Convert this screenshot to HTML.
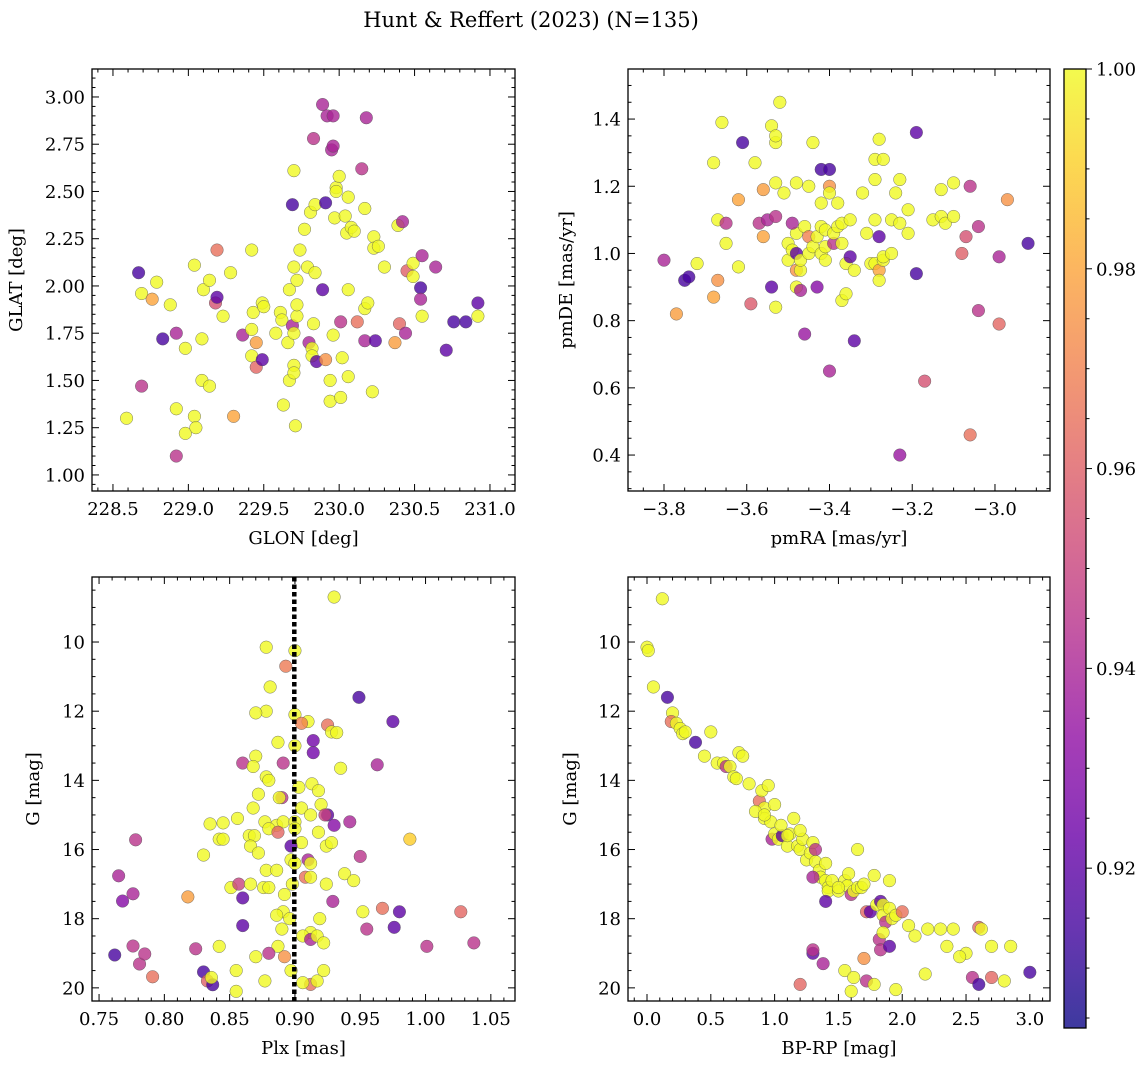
<!DOCTYPE html>
<html><head><meta charset="utf-8"><style>
body{margin:0;background:#fff;}
svg{display:block;font-family:"DejaVu Serif","Liberation Serif",serif;}
</style></head><body>
<svg id="fig" width="1148" height="1068" viewBox="0 0 1148 1068">
<defs><linearGradient id="cbg" x1="0" y1="1" x2="0" y2="0"></linearGradient></defs>
<text x="531" y="27" font-size="21" text-anchor="middle">Hunt &amp; Reffert (2023) (N=135)</text>
</svg>
<script>
// ---- Panel 1: GLON vs GLAT ----
const p1Glon=[228.59,228.67,228.69,228.69,228.76,228.79,228.83,228.88,228.92,228.92,228.92,228.98,228.98,229.04,229.04,229.05,229.09,229.09,229.10,229.14,229.14,229.18,229.19,229.19,229.23,229.28,229.30,229.36,229.42,229.42,229.42,229.43,229.45,229.45,229.49,229.49,229.50,229.58,229.61,229.62,229.63,229.66,229.67,229.67,229.69,229.69,229.70,229.70,229.70,229.70,229.70,229.71,229.72,229.72,229.72,229.74,229.77,229.79,229.80,229.81,229.82,229.82,229.83,229.84,229.83,229.84,229.85,229.89,229.89,229.91,229.91,229.92,229.94,229.94,229.95,229.96,229.96,229.96,229.97,229.98,229.98,230.00,230.01,230.01,230.02,230.04,230.05,230.06,230.06,230.06,230.08,230.10,230.12,230.15,230.17,230.17,230.17,230.18,230.19,230.22,230.23,230.23,230.24,230.26,230.30,230.37,230.39,230.40,230.42,230.44,230.45,230.49,230.49,230.54,230.54,230.55,230.55,230.64,230.71,230.76,230.84,230.92,230.92];
const p1Glat=[1.30,2.07,1.96,1.47,1.93,2.02,1.72,1.90,1.10,1.75,1.35,1.67,1.22,2.11,1.31,1.25,1.72,1.50,1.98,1.47,2.03,1.91,1.94,2.19,1.84,2.07,1.31,1.74,2.19,1.63,1.77,1.86,1.70,1.57,1.91,1.61,1.89,1.75,1.86,1.82,1.37,1.70,1.98,1.50,1.79,2.43,2.10,2.61,1.75,1.58,1.54,1.26,1.84,1.90,2.03,2.19,2.30,2.10,1.70,2.39,1.67,1.63,1.80,2.43,2.78,2.07,1.60,2.96,1.98,1.61,2.44,2.90,1.50,1.39,2.72,2.90,1.74,2.74,2.36,2.52,2.50,2.58,1.81,1.41,1.62,2.37,2.28,2.47,1.98,1.52,2.31,2.29,1.81,2.62,1.88,1.71,2.41,2.89,1.91,1.44,2.26,2.20,1.71,2.21,2.10,1.70,2.32,1.80,2.34,1.75,2.08,2.05,2.12,1.99,1.93,1.84,2.16,2.10,1.66,1.81,1.81,1.91,1.84];
const p1Prob=[1,0.915,1,0.945,0.98,1,0.915,1,0.945,0.94,1,1,1,1,1,1,1,1,1,1,1,0.955,0.92,0.965,1,1,0.98,0.94,1,1,1,1,0.978,0.962,1,0.92,1,1,1,1,1,1,1,1,0.94,0.915,1,1,1,1,1,1,1,1,1,1,1,1,0.94,1,1,1,1,1,0.945,1,0.92,0.94,0.92,0.975,0.915,0.94,1,1,0.94,0.94,1,0.94,1,1,1,1,0.945,1,1,1,1,1,1,1,1,1,0.965,0.945,1,0.94,1,0.94,1,1,1,1,0.92,1,1,0.978,1,0.962,0.94,0.94,0.96,1,1,0.915,0.94,1,0.94,0.94,0.92,0.915,0.915,0.92,1];

// ---- Panel 2: pmRA vs pmDE ----
const p2Pmra=[-3.80,-3.75,-3.74,-3.77,-3.72,-3.68,-3.68,-3.67,-3.67,-3.66,-3.65,-3.65,-3.62,-3.62,-3.61,-3.59,-3.58,-3.57,-3.56,-3.56,-3.55,-3.54,-3.54,-3.53,-3.53,-3.53,-3.53,-3.53,-3.52,-3.51,-3.50,-3.50,-3.49,-3.48,-3.48,-3.48,-3.49,-3.48,-3.48,-3.47,-3.47,-3.47,-3.46,-3.46,-3.45,-3.45,-3.45,-3.44,-3.44,-3.43,-3.43,-3.42,-3.42,-3.42,-3.40,-3.42,-3.41,-3.41,-3.41,-3.40,-3.40,-3.40,-3.39,-3.39,-3.38,-3.38,-3.37,-3.37,-3.37,-3.36,-3.36,-3.35,-3.35,-3.34,-3.34,-3.32,-3.31,-3.30,-3.29,-3.29,-3.29,-3.29,-3.28,-3.28,-3.27,-3.28,-3.28,-3.27,-3.27,-3.25,-3.25,-3.24,-3.23,-3.23,-3.21,-3.21,-3.19,-3.19,-3.23,-3.17,-3.15,-3.13,-3.13,-3.12,-3.10,-3.10,-3.08,-3.06,-3.07,-3.06,-3.04,-3.04,-2.99,-2.99,-2.97,-2.92];
const p2Pmde=[0.98,0.92,0.93,0.82,0.97,0.87,1.27,1.10,0.92,1.39,1.03,1.09,0.96,1.16,1.33,0.85,1.27,1.09,1.05,1.19,1.10,1.38,0.90,1.33,1.21,1.35,0.84,1.11,1.45,1.18,1.03,0.98,1.01,1.06,0.95,0.90,1.09,1.21,1.00,0.95,0.98,0.89,1.08,0.76,1.05,1.00,1.20,1.33,1.02,1.05,0.90,1.15,1.08,1.25,1.25,1.00,1.07,0.98,1.02,1.20,1.18,0.65,1.03,1.06,1.15,1.08,1.03,1.09,0.86,0.97,0.88,0.99,1.10,0.74,0.95,1.18,1.06,0.97,1.28,1.22,1.10,0.97,0.95,1.05,0.98,0.92,1.34,0.99,1.28,1.00,1.10,1.18,1.22,0.40,1.06,1.13,0.94,1.36,1.09,0.62,1.10,1.19,1.11,1.09,1.11,1.21,1.00,1.20,1.05,0.46,1.08,0.83,0.99,0.79,1.16,1.03,0.85];
const p2Prob=[0.94,0.915,0.915,0.978,1,0.98,1,1,0.975,1,1,0.945,1,0.98,0.915,0.958,1,0.945,0.98,0.978,0.94,1,0.92,1,1,1,1,0.945,1,1,1,1,1,1,0.975,1,0.94,1,0.92,1,1,0.94,1,0.935,0.97,1,1,1,1,1,0.93,1,1,0.915,0.915,1,1,1,1,0.975,1,0.94,0.945,1,1,1,1,1,1,1,1,0.92,1,0.92,1,1,1,1,1,1,1,1,0.98,0.92,1,1,1,1,1,1,1,1,1,0.935,1,1,0.915,0.92,1,0.955,1,1,1,1,1,1,0.96,0.945,0.955,0.965,0.945,0.945,0.94,0.962,0.975,0.915];

// ---- Panel 3: Plx vs G ----
const p3Plx=[0.762,0.765,0.768,0.776,0.776,0.778,0.781,0.785,0.791,0.818,0.824,0.830,0.833,0.830,0.835,0.837,0.842,0.845,0.851,0.857,0.855,0.878,0.893,0.900,0.881,0.878,0.870,0.900,0.910,0.905,0.925,0.928,0.932,0.887,0.900,0.914,0.870,0.860,0.891,0.868,0.878,0.935,0.913,0.880,0.872,0.903,0.918,0.890,0.868,0.856,0.920,0.905,0.877,0.886,0.891,0.900,0.912,0.925,0.930,0.942,0.845,0.865,0.869,0.880,0.887,0.900,0.905,0.918,0.924,0.928,0.866,0.872,0.897,0.897,0.910,0.912,0.878,0.886,0.900,0.938,0.945,0.924,0.908,0.912,0.866,0.876,0.880,0.892,0.898,0.929,0.967,0.980,1.027,0.952,0.891,0.896,0.890,0.886,0.919,0.912,0.906,0.912,0.917,0.922,0.955,0.976,1.037,1.001,0.842,0.860,0.887,0.892,0.870,0.880,0.897,0.922,0.912,0.906,0.917,0.877,0.855,0.949,0.975,0.963,0.914,0.988,0.930,0.950,0.860,0.923,0.888,0.836];
const p3G=[19.05,16.76,17.49,18.79,17.28,15.72,19.31,19.02,19.68,17.37,18.87,19.54,19.80,16.16,15.26,19.91,15.70,15.23,17.10,17.00,19.50,10.15,10.70,10.25,11.30,12.00,12.05,12.10,12.30,12.35,12.40,12.60,12.62,12.90,13.00,13.20,13.30,13.50,13.50,13.60,13.90,13.65,14.10,14.00,14.40,14.20,14.30,14.50,14.80,15.10,14.70,14.80,15.20,15.30,15.20,15.20,15.00,15.00,15.30,15.20,15.70,15.60,15.60,15.40,15.50,15.40,15.80,15.50,15.90,15.80,15.90,16.10,15.90,16.30,16.30,16.40,16.60,16.60,16.40,16.70,16.90,17.00,16.80,16.80,17.00,17.10,17.10,17.30,17.00,17.50,17.70,17.80,17.80,17.80,17.80,18.00,18.30,17.90,18.00,18.40,18.50,18.60,18.50,18.70,18.30,18.25,18.70,18.80,18.80,18.20,18.80,19.10,19.10,19.00,19.50,19.50,19.90,19.85,19.80,19.80,20.10,11.60,12.30,13.55,12.85,15.70,8.70,16.20,17.40,15.00,14.50,19.70];
const p3Prob=[0.915,0.94,0.93,0.945,0.94,0.945,0.945,0.945,0.965,0.978,0.945,0.915,0.96,1,1,0.915,1,1,1,0.95,1,1,0.968,1,1,1,1,1,1,0.97,0.965,1,1,1,1,0.925,1,0.945,0.945,1,1,1,1,1,1,1,1,0.945,1,1,1,1,1,1,1,1,1,0.92,0.93,0.94,1,1,1,1,0.962,1,1,1,1,1,1,1,0.92,1,0.94,1,1,1,1,1,1,1,0.965,1,1,1,1,1,1,0.94,0.965,0.92,0.962,1,1,1,1,1,1,1,1,0.94,1,1,0.945,0.92,0.945,0.945,1,0.92,1,0.975,1,0.945,1,1,0.965,1,1,1,1,0.915,0.92,0.94,0.925,0.99,1,0.945,0.92,0.95,1,1];

// ---- Panel 4: BP-RP vs G ----
const p4Bprp=[0.00,0.01,0.12,0.05,0.16,0.20,0.19,0.23,0.26,0.28,0.30,0.38,0.45,0.50,0.55,0.60,0.62,0.65,0.68,0.72,0.70,0.75,0.80,0.88,0.90,0.92,0.95,0.92,0.97,0.98,1.00,1.03,1.06,1.05,1.10,1.12,1.15,1.18,1.20,1.22,1.20,1.25,1.28,1.30,1.32,1.32,1.35,1.36,1.30,1.40,1.42,1.42,1.40,1.45,1.50,1.55,1.57,1.60,1.62,1.65,1.68,1.70,1.72,1.75,1.78,1.80,1.83,1.85,1.85,1.87,1.82,1.83,1.85,1.90,1.90,1.92,1.95,2.00,2.05,2.10,2.20,2.18,2.30,2.35,2.40,2.50,2.60,2.62,2.70,2.80,2.85,3.00,2.55,2.60,2.70,2.45,1.20,1.30,1.30,1.38,1.55,1.62,1.60,1.72,1.70,1.95,1.78,1.90,1.50,1.10,1.00,0.85,0.92,1.40,1.58,1.65];
const p4G=[10.15,10.25,8.75,11.30,11.60,12.05,12.30,12.35,12.50,12.65,12.60,12.90,13.30,12.60,13.50,13.50,13.60,13.60,13.90,13.20,13.95,13.30,14.10,14.60,14.30,14.80,14.15,15.10,15.20,15.70,15.55,15.70,15.60,15.30,15.90,15.55,15.10,15.90,16.00,15.70,15.45,16.30,16.10,15.80,16.00,16.35,16.60,16.80,16.80,16.90,17.10,17.20,17.50,16.90,17.20,16.90,17.05,17.30,17.20,17.10,17.10,17.00,17.80,17.80,16.75,17.60,17.50,17.60,17.90,18.10,18.60,18.90,18.40,18.80,17.70,18.00,17.90,17.80,18.20,18.50,18.30,19.60,18.30,18.80,18.30,19.00,18.25,18.30,18.80,19.80,18.80,19.55,19.70,19.90,19.70,19.10,19.90,19.00,18.90,19.30,19.50,19.70,20.10,19.80,19.15,20.05,19.90,16.90,17.10,15.60,14.70,14.90,15.00,16.40,16.70,16.00];
const p4Prob=[1,1,1,1,0.915,1,0.965,1,1,1,1,0.915,1,1,1,1,0.945,1,1,1,1,1,1,0.965,1,1,1,1,1,0.94,1,1,0.92,1,1,1,1,1,1,1,1,1,1,1,0.945,1,1,1,0.94,1,1,1,0.92,1,1,1,1,0.945,1,1,1,1,0.962,0.92,1,1,0.92,1,1,0.945,0.945,0.945,1,0.92,1,1,1,0.965,1,1,1,1,1,1,1,1,0.962,1,1,1,1,0.915,0.945,0.915,0.962,1,0.962,0.92,0.945,0.94,1,1,1,0.945,0.975,1,1,1,1,1,1,1,1,1,1,1];

const cbTicks=[0.92,0.94,0.96,0.98,1.00];
const VMIN=0.904, VMAX=1.0;

const NS="http://www.w3.org/2000/svg";
const svg=document.getElementById('fig');
function mk(tag,attrs,parent){const e=document.createElementNS(NS,tag);for(const k in attrs)e.setAttribute(k,attrs[k]);(parent||svg).appendChild(e);return e;}

const plasma=[[13,8,135],[65,4,157],[106,0,168],[143,13,164],[177,42,144],[204,71,120],[225,100,98],[242,132,75],[252,166,54],[252,206,37],[240,249,33]];
function cmap(v){let t=(v-VMIN)/(VMAX-VMIN);t=Math.max(0,Math.min(1,t));const f=t*(plasma.length-1);const i=Math.min(plasma.length-2,Math.floor(f));const r=f-i;const a=plasma[i],b=plasma[i+1];return `rgb(${Math.round(a[0]+(b[0]-a[0])*r)},${Math.round(a[1]+(b[1]-a[1])*r)},${Math.round(a[2]+(b[2]-a[2])*r)})`;}

function fmt(v,d){return (v<0?'\u2212':'')+Math.abs(v).toFixed(d);}
const TFS=18, LFS=18;

function panel(o){
  const g=mk('g',{});
  
  
  const sx=v=>o.x0+(v-o.xr[0])/(o.xr[1]-o.xr[0])*(o.x1-o.x0);
  const sy=o.yinv?(v=>o.y0+(v-o.yr[0])/(o.yr[1]-o.yr[0])*(o.y1-o.y0)):(v=>o.y1-(v-o.yr[0])/(o.yr[1]-o.yr[0])*(o.y1-o.y0));
  const pg=mk('g',{},g);
  
  
  for(let i=0;i<o.xs.length;i++){
    const c=mk('circle',{cx:sx(o.xs[i]),cy:sy(o.ys[i]),r:6.3,fill:cmap(o.ps[i]),'fill-opacity':0.8,stroke:'#555','stroke-width':0.4},pg);
    
    
  }
  if(o.vline!==undefined){
    const l=mk('line',{x1:sx(o.vline),x2:sx(o.vline),y1:o.y0,y2:o.y1,stroke:'#000','stroke-width':4.5,'stroke-dasharray':'4.5,3'},g);
    
    
  }
  const fr=mk('rect',{x:o.x0,y:o.y0,width:o.x1-o.x0,height:o.y1-o.y0,fill:'none',stroke:'#000','stroke-width':1.3},g);
  
  
  const eps=1e-9;
  for(let v=Math.ceil(o.xr[0]/o.xmin-eps)*o.xmin;v<=o.xr[1]+eps;v+=o.xmin){
    const X=sx(v);const major=Math.abs(v/o.xmaj-Math.round(v/o.xmaj))<1e-6;const L=major?7:3.5;
    mk('line',{x1:X,x2:X,y1:o.y1,y2:o.y1-L,stroke:'#000','stroke-width':1},g);
    mk('line',{x1:X,x2:X,y1:o.y0,y2:o.y0+L,stroke:'#000','stroke-width':1},g);
    if(major){const t=mk('text',{x:X,y:o.y1+24,'font-size':TFS,'text-anchor':'middle'},g);t.textContent=fmt(v,o.xd);
      }
  }
  for(let v=Math.ceil(o.yr[0]/o.ymin-eps)*o.ymin;v<=o.yr[1]+eps;v+=o.ymin){
    const Y=sy(v);const major=Math.abs(v/o.ymaj-Math.round(v/o.ymaj))<1e-6;const L=major?7:3.5;
    mk('line',{x1:o.x0,x2:o.x0+L,y1:Y,y2:Y,stroke:'#000','stroke-width':1},g);
    mk('line',{x1:o.x1,x2:o.x1-L,y1:Y,y2:Y,stroke:'#000','stroke-width':1},g);
    if(major){const t=mk('text',{x:o.x0-7,y:Y+6.5,'font-size':TFS,'text-anchor':'end'},g);t.textContent=fmt(v,o.yd);
      }
  }
  const xl=mk('text',{x:(o.x0+o.x1)/2,y:o.y1+53,'font-size':LFS,'text-anchor':'middle'},g);xl.textContent=o.xlabel;
  
  const yx=o.ylx, yy=(o.y0+o.y1)/2;
  const yl=mk('text',{x:yx,y:yy,'font-size':LFS,'text-anchor':'middle',transform:`rotate(-90 ${yx} ${yy})`},g);yl.textContent=o.ylabel;
  
}

panel({name:'glon-glat-panel',x0:92,x1:515,y0:69,y1:491,xr:[228.361,231.166],yr:[0.915,3.148],xs:p1Glon,ys:p1Glat,ps:p1Prob,xmaj:0.5,xmin:0.1,ymaj:0.25,ymin:0.05,xd:1,yd:2,xlabel:'GLON [deg]',ylabel:'GLAT [deg]',ylx:22});
panel({name:'proper-motion-panel',x0:628,x1:1050,y0:69,y1:491,xr:[-3.887,-2.867],yr:[0.293,1.549],xs:p2Pmra,ys:p2Pmde,ps:p2Prob,xmaj:0.2,xmin:0.05,ymaj:0.2,ymin:0.05,xd:1,yd:1,xlabel:'pmRA [mas/yr]',ylabel:'pmDE [mas/yr]',ylx:572});
panel({name:'parallax-panel',x0:92,x1:515,y0:577,y1:1001,xr:[0.7446,1.0685],yr:[8.12,20.38],yinv:true,xs:p3Plx,ys:p3G,ps:p3Prob,xmaj:0.05,xmin:0.01,ymaj:2,ymin:0.5,xd:2,yd:0,xlabel:'Plx [mas]',ylabel:'G [mag]',ylx:39,vline:0.8995});
panel({name:'cmd-panel',x0:628,x1:1050,y0:577,y1:1001,xr:[-0.149,3.158],yr:[8.12,20.38],yinv:true,xs:p4Bprp,ys:p4G,ps:p4Prob,xmaj:0.5,xmin:0.1,ymaj:2,ymin:0.5,xd:1,yd:0,xlabel:'BP-RP [mag]',ylabel:'G [mag]',ylx:576});

const grad=document.getElementById('cbg');
for(let i=0;i<=20;i++){const v=VMIN+(VMAX-VMIN)*i/20;mk('stop',{offset:(i/20),'stop-color':cmap(v),'stop-opacity':0.8},grad);}
const cb=mk('g',{});


const cx0=1064,cx1=1086,cy0=69,cy1=1028;
const cyv=v=>cy1-(v-VMIN)/(VMAX-VMIN)*(cy1-cy0);
mk('rect',{x:cx0,y:cy0,width:cx1-cx0,height:cy1-cy0,fill:'url(#cbg)',stroke:'#000','stroke-width':1.3},cb);
for(let v=0.905;v<=1.0001;v+=0.005){const Y=cyv(v);const maj=cbTicks.some(t=>Math.abs(t-v)<1e-6);
  mk('line',{x1:cx1,x2:cx1+(maj?6:3.5),y1:Y,y2:Y,stroke:'#000','stroke-width':1},cb);}
cbTicks.forEach(v=>{const t=mk('text',{x:cx1+10,y:cyv(v)+6.5,'font-size':TFS},cb);t.textContent=v.toFixed(2);
  });
</script>
</body></html>
